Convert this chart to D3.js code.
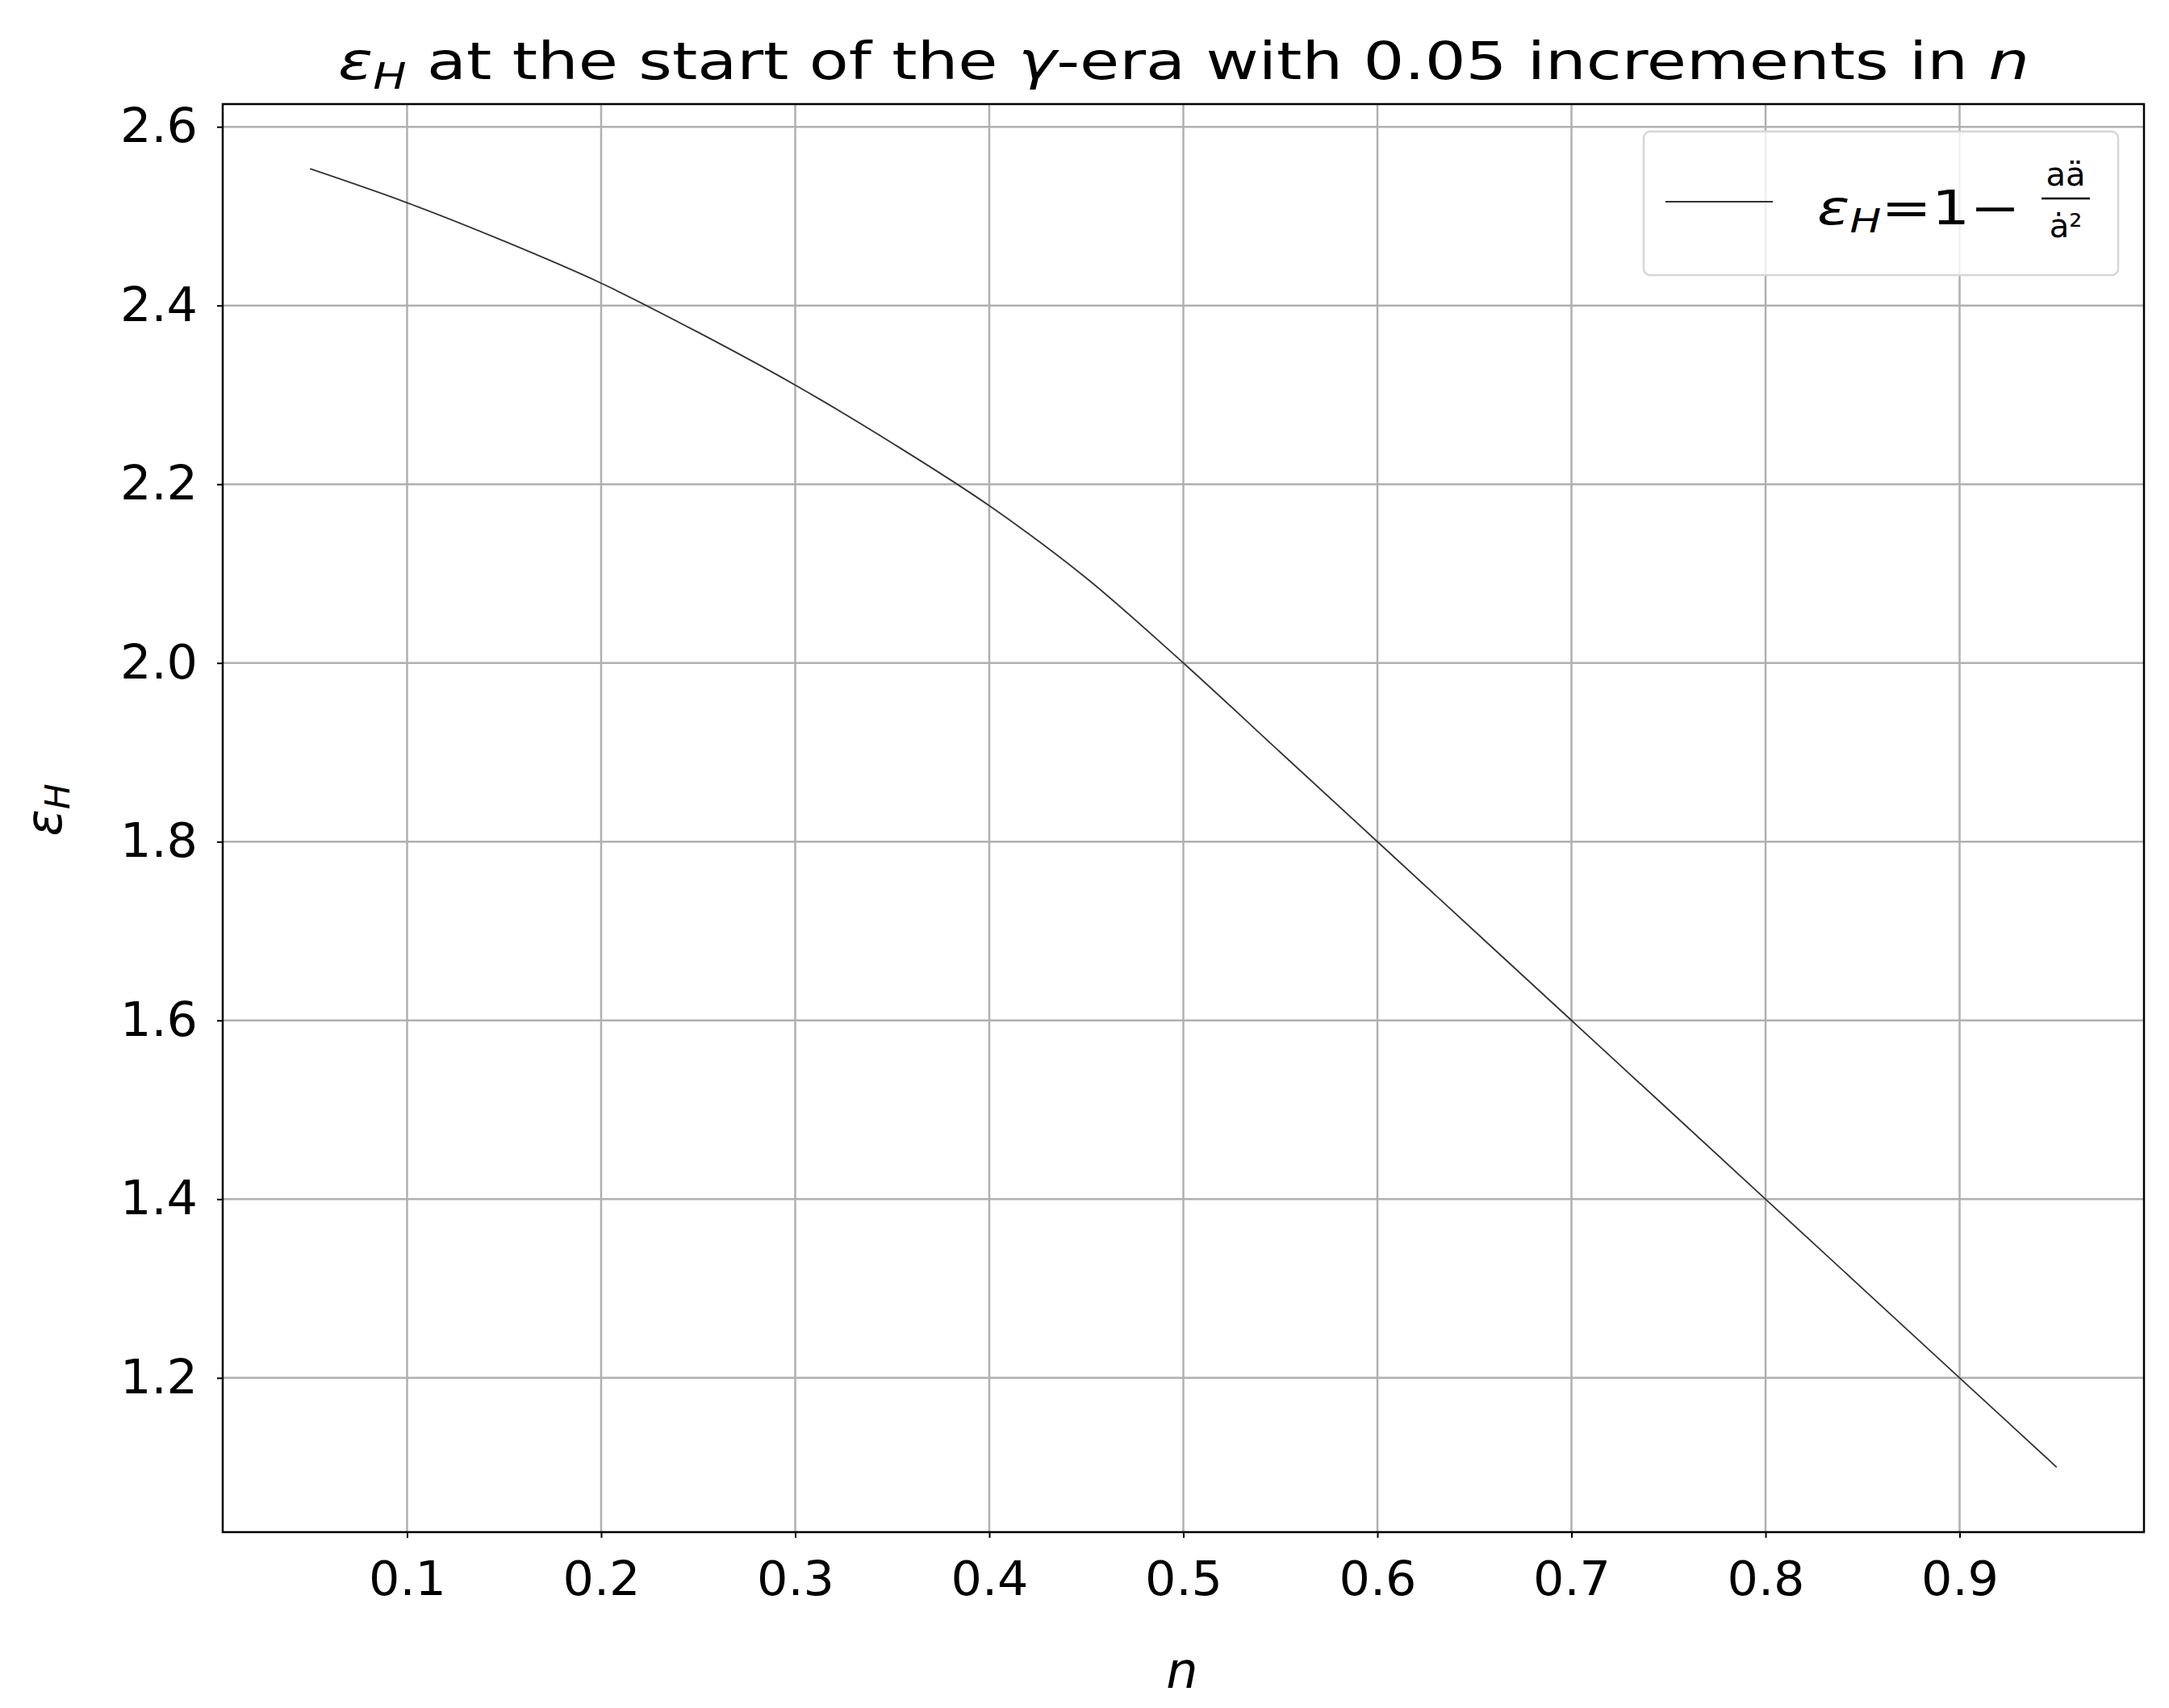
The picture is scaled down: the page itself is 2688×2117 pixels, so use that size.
<!DOCTYPE html>
<html><head><meta charset="utf-8">
<script src="https://cdn.jsdelivr.net/npm/d3@7"></script>
<style>body{margin:0;background:#fff}text{font-family:"DejaVu Sans",sans-serif}</style>
</head><body>
<svg id="chart" width="2688" height="2117"></svg>
<script>
// n values and epsilon_H
const nValues = [0.05,0.10,0.15,0.20,0.25,0.30,0.35,0.40,0.45,0.50,0.55,0.60,0.65,0.70,0.75,0.80,0.85,0.90,0.95];
const epsH    = [2.553,2.515,2.472,2.425,2.370,2.311,2.246,2.176,2.095,2.000,1.900,1.800,1.700,1.600,1.500,1.400,1.300,1.200,1.100];
const xTicks = [0.1,0.2,0.3,0.4,0.5,0.6,0.7,0.8,0.9];
const yTicks = [1.2,1.4,1.6,1.8,2.0,2.2,2.4,2.6];

const data = nValues.map((n,i) => ({n, e: epsH[i]}));
const m = {left:276, right:2657, top:129, bottom:1899};
const svg = d3.select("#chart");

const x = d3.scaleLinear().domain([0.005,0.995]).range([m.left,m.right]);
const y = d3.scaleLinear().domain([1.0274,2.6254]).range([m.bottom,m.top]);

// grid
svg.append("g").selectAll("line").data(xTicks).join("line")
    .attr("x1",d=>x(d)).attr("x2",d=>x(d)).attr("y1",m.top).attr("y2",m.bottom)
    .attr("stroke","#b0b0b0").attr("stroke-width",2.5);
svg.append("g").selectAll("line").data(yTicks).join("line")
    .attr("y1",d=>y(d)).attr("y2",d=>y(d)).attr("x1",m.left).attr("x2",m.right)
    .attr("stroke","#b0b0b0").attr("stroke-width",2.5);

// axes
const xAxis = svg.append("g").attr("transform",`translate(0,${m.bottom})`)
    .call(d3.axisBottom(x).tickValues(xTicks).tickFormat(d3.format(".1f")).tickSizeOuter(0).tickSize(7).tickPadding(30));
const yAxis = svg.append("g").attr("transform",`translate(${m.left},0)`)
    .call(d3.axisLeft(y).tickValues(yTicks).tickFormat(d3.format(".1f")).tickSizeOuter(0).tickSize(7).tickPadding(24));
[xAxis,yAxis].forEach(a=>{
    a.select(".domain").remove();
    a.selectAll("text").attr("font-size",58).attr("fill","#000").attr("font-family","DejaVu Sans")
        .attr("textLength",96).attr("lengthAdjust","spacingAndGlyphs");
    a.selectAll(".tick line").attr("stroke","#000").attr("stroke-width",2);
});

// line
svg.append("path").datum(data)
    .attr("fill","none").attr("stroke","#333").attr("stroke-width",1.8)
    .attr("d",d3.line().curve(d3.curveMonotoneX).x(d=>x(d.n)).y(d=>y(d.e)));

// frame
svg.append("rect").attr("x",m.left).attr("y",m.top).attr("width",m.right-m.left).attr("height",m.bottom-m.top)
    .attr("fill","none").attr("stroke","#000").attr("stroke-width",2.5);

// title
const t = svg.append("text").attr("x",1467).attr("y",98).attr("text-anchor","middle").attr("font-size",64)
    .attr("textLength",2096).attr("lengthAdjust","spacingAndGlyphs");
t.append("tspan").attr("font-style","italic").text("ε");
t.append("tspan").attr("font-style","italic").attr("font-size",44).attr("dy",12).text("H");
t.append("tspan").attr("dy",-12).text(" at the start of the ");
t.append("tspan").attr("font-style","italic").text("γ");
t.append("tspan").text("-era with 0.05 increments in ");
t.append("tspan").attr("font-style","italic").text("n");

// axis labels
svg.append("text").attr("x",1465).attr("y",2092).attr("text-anchor","middle")
    .attr("font-size",62).attr("font-style","italic").text("n");
const yl = svg.append("text").attr("transform",`translate(76,${(m.top+m.bottom)/2 - 10}) rotate(-90)`)
    .attr("text-anchor","middle").attr("font-size",62).attr("font-style","italic");
yl.append("tspan").text("ε");
yl.append("tspan").attr("font-size",42).attr("dy",10).text("H");

// legend
const lg = svg.append("g");
lg.append("rect").attr("x",2037).attr("y",163).attr("width",588).attr("height",178).attr("rx",8)
    .attr("fill","#fff").attr("fill-opacity",0.8).attr("stroke","#d6d6d6").attr("stroke-width",2.5);
lg.append("line").attr("x1",2064).attr("x2",2197).attr("y1",250).attr("y2",250).attr("stroke","#333").attr("stroke-width",1.8);
const lt = lg.append("text").attr("x",2252).attr("y",278).attr("font-size",58)
    .attr("textLength",252).attr("lengthAdjust","spacingAndGlyphs");
lt.append("tspan").attr("font-style","italic").text("ε");
lt.append("tspan").attr("font-style","italic").attr("font-size",40).attr("dy",10).text("H");
lt.append("tspan").attr("dy",-10).text("=1−");
lg.append("text").attr("x",2560).attr("y",230).attr("text-anchor","middle").attr("font-size",40).text("aä");
lg.append("line").attr("x1",2530).attr("x2",2590).attr("y1",246).attr("y2",246).attr("stroke","#000").attr("stroke-width",2.5);
lg.append("text").attr("x",2560).attr("y",294).attr("text-anchor","middle").attr("font-size",40).text("ȧ²");
</script>
</body></html>
